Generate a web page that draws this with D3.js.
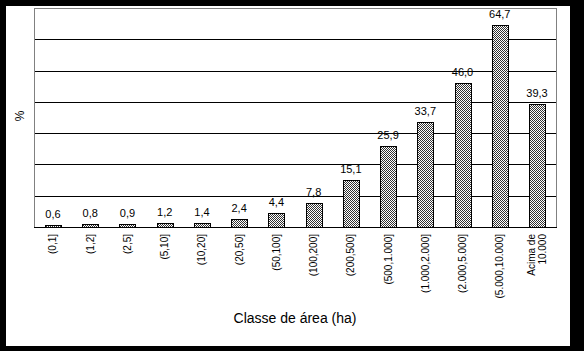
<!DOCTYPE html>
<html>
<head>
<meta charset="utf-8">
<script src="https://cdn.jsdelivr.net/npm/d3@7"></script>
<style>
  html, body { margin: 0; padding: 0; background: #000; }
  svg { display: block; }
</style>
</head>
<body>
<svg width="584" height="351"></svg>
<script>
const categories = ["(0,1]", "(1,2]", "(2,5]", "(5,10]", "(10,20]", "(20,50]", "(50,100]",
  "(100,200]", "(200,500]", "(500,1.000]", "(1.000,2.000]", "(2.000,5.000]", "(5.000,10.000]", "Acima de|10.000"];
const values = [0.6, 0.8, 0.9, 1.2, 1.4, 2.4, 4.4, 7.8, 15.1, 25.9, 33.7, 46.0, 64.7, 39.3];
const gridTicks = [10, 20, 30, 40, 50, 60];

const svg = d3.select("svg");
const plotL = 34, plotR = 556, plotT = 8, plotB = 227;
const font = "Arial, 'Liberation Sans', sans-serif";

// white page on black frame
svg.append("rect").attr("x", 6).attr("y", 6).attr("width", 564).attr("height", 340).attr("fill", "#fff");

// checker pattern for bars
const defs = svg.append("defs");
const pat = defs.append("pattern").attr("id", "chk").attr("patternUnits", "userSpaceOnUse")
  .attr("width", 2).attr("height", 2);
pat.append("rect").attr("width", 2).attr("height", 2).attr("fill", "#fff");
pat.append("rect").attr("width", 1).attr("height", 1).attr("fill", "#333");
pat.append("rect").attr("x", 1).attr("y", 1).attr("width", 1).attr("height", 1).attr("fill", "#333");

const x = d3.scaleBand().domain(categories).range([plotL, plotR]).paddingInner(0.57).paddingOuter(0.295);
const y = d3.scaleLinear().domain([0, 70]).range([plotB, plotT]);

// plot border
svg.append("rect").attr("x", plotL + 0.5).attr("y", plotT + 0.5)
  .attr("width", plotR - plotL).attr("height", plotB - plotT)
  .attr("fill", "none").attr("stroke", "#808080");

// gridlines
svg.append("g").selectAll("line").data(gridTicks).join("line")
  .attr("x1", plotL + 1).attr("x2", plotR)
  .attr("y1", d => Math.round(y(d)) + 0.5).attr("y2", d => Math.round(y(d)) + 0.5)
  .attr("stroke", "#000");

// bars
svg.append("g").selectAll("rect").data(values).join("rect")
  .attr("x", (d, i) => Math.round(x(categories[i])) + 0.5)
  .attr("y", d => Math.round(y(d)) + 0.5)
  .attr("width", Math.round(x.bandwidth()))
  .attr("height", d => plotB - Math.round(y(d)))
  .attr("fill", "url(#chk)").attr("stroke", "#000");

// bottom axis line
svg.append("line").attr("x1", plotL).attr("x2", plotR + 1)
  .attr("y1", plotB + 0.5).attr("y2", plotB + 0.5).attr("stroke", "#000");

// value labels
svg.append("g").selectAll("text").data(values).join("text")
  .attr("x", (d, i) => x(categories[i]) + x.bandwidth() / 2)
  .attr("y", d => y(d) - 7)
  .attr("text-anchor", "middle")
  .attr("font-family", font).attr("font-size", 11)
  .text(d => d.toFixed(1).replace(".", ","));

// category labels, rotated
const cl = svg.append("g").selectAll("text").data(categories).join("text")
  .attr("transform", d => `translate(${x(d) + x.bandwidth() / 2},234) rotate(-90)`)
  .attr("text-anchor", "end")
  .attr("font-family", font).attr("font-size", 10);
cl.each(function (d) {
  const parts = d.split("|");
  const t = d3.select(this);
  if (parts.length === 1) {
    t.append("tspan").attr("x", 0).attr("dy", "0.35em").text(parts[0]);
  } else {
    t.append("tspan").attr("x", 0).attr("dy", "-0.25em").text(parts[0]);
    t.append("tspan").attr("x", 0).attr("dy", "1.15em").text(parts[1]);
  }
});

// axis titles
svg.append("text").attr("x", 295).attr("y", 323).attr("text-anchor", "middle")
  .attr("font-family", font).attr("font-size", 14)
  .text("Classe de área (ha)");
svg.append("text").attr("transform", "translate(24,116) rotate(-90)").attr("text-anchor", "middle")
  .attr("font-family", font).attr("font-size", 12)
  .text("%");
</script>
</body>
</html>
